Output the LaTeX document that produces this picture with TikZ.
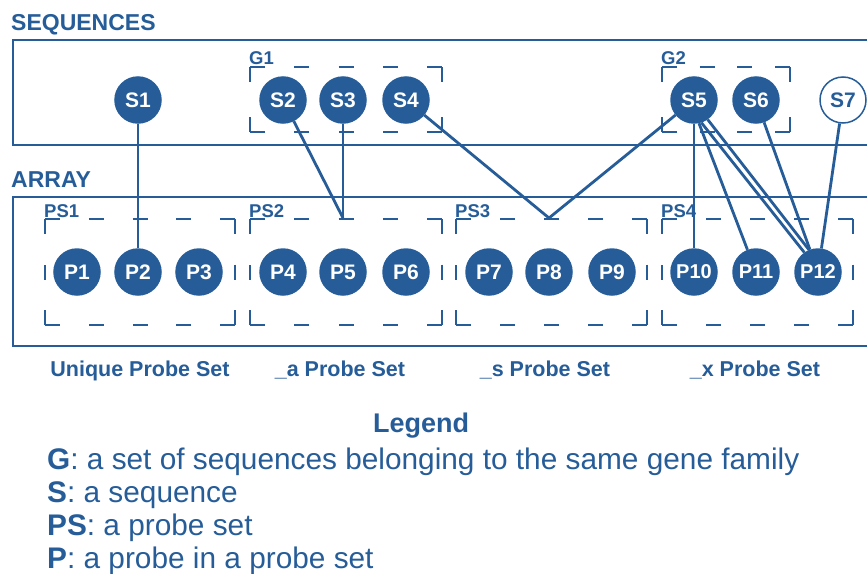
\documentclass[tikz,border=0pt]{standalone}
\usepackage{fontspec}
\setmainfont{Liberation Sans}
\usetikzlibrary{backgrounds}
\definecolor{bl}{RGB}{38,93,153}
\tikzset{
  sn/.style={circle, fill=bl, draw=bl, line width=1.5pt, minimum size=46pt, inner sep=0pt,
    text=white, font=\fontsize{21}{21}\selectfont\bfseries},
  snw/.style={sn, fill=white, text=bl},
  con/.style={draw=bl, line width=2.8pt},
  solidbox/.style={draw=bl, line width=2pt},
  dbox/.style={draw=bl, line width=2pt, line cap=square},
  lab/.style={text=bl, font=\fontsize{18.5}{18.5}\selectfont\bfseries, inner sep=0pt, anchor=base west},
  head/.style={text=bl, font=\fontsize{23}{23}\selectfont\bfseries, inner sep=0pt, anchor=base west},
  captext/.style={text=bl, font=\fontsize{21.5}{21.5}\selectfont\bfseries, inner sep=0pt, anchor=base},
  legtitle/.style={text=bl, font=\fontsize{27}{27}\selectfont\bfseries, inner sep=0pt, anchor=base},
  leg/.style={text=bl, font=\fontsize{29.8}{29.8}\selectfont, inner sep=0pt, anchor=base west},
}
\newcommand\dseg[4]{%
  \pgfmathsetmacro\Ltot{veclen(#3-#1,#4-#2)}%
  \pgfmathsetmacro\kk{max(1,round((\Ltot-15)/40))}%
  \pgfmathsetmacro\gg{(\Ltot-15)/\kk-15}%
  \draw[dbox, dash pattern=on 15pt off \gg pt] (#1,#2) -- (#3,#4);%
}
\newcommand\grpbox[4]{\dseg{#1}{#2}{#3}{#2}\dseg{#3}{#2}{#3}{#4}\dseg{#3}{#4}{#1}{#4}\dseg{#1}{#4}{#1}{#2}}
\begin{document}
\begin{tikzpicture}[x=1pt, y=-1pt]
\useasboundingbox (0,0) rectangle (867,573);
\begin{scope}
\clip (0,0) rectangle (867,573);
\draw[solidbox] (13,40) rectangle (885,145);
\draw[solidbox] (13,197) rectangle (885,346);
\end{scope}

\node[head] (seqh) at (11,30) {SEQUENCES};
\node[head] (arrh) at (11,187) {ARRAY};

% dashed groups
\grpbox{250}{67}{442}{132}
\grpbox{662}{67}{790}{132}
\grpbox{45}{219}{235}{325}
\grpbox{250}{219}{442}{325}
\grpbox{456}{219}{647}{325}
\grpbox{662}{219}{853}{325}

\node[lab] (g1) at (249,64) {G1};
\node[lab] (g2) at (661,64) {G2};
\node[lab] (ps1) at (44,217) {PS1};
\node[lab] (ps2) at (249,217) {PS2};
\node[lab] (ps3) at (455,217) {PS3};
\node[lab] (ps4) at (661,217) {PS4};

% sequences
\node[sn] (S1) at (138,100) {S1};
\node[sn] (S2) at (283,100) {S2};
\node[sn] (S3) at (343,100) {S3};
\node[sn] (S4) at (406,100) {S4};
\node[sn] (S5) at (694,100) {S5};
\node[sn] (S6) at (756,100) {S6};
\node[snw] (S7) at (843,100) {S7};

% probes
\node[sn] (P1) at (77,272) {P1};
\node[sn] (P2) at (138,272) {P2};
\node[sn] (P3) at (199,272) {P3};
\node[sn] (P4) at (283,272) {P4};
\node[sn] (P5) at (343,272) {P5};
\node[sn] (P6) at (406,272) {P6};
\node[sn] (P7) at (489,272) {P7};
\node[sn] (P8) at (549,272) {P8};
\node[sn] (P9) at (612,272) {P9};
\node[sn, font=\fontsize{20}{20}\selectfont\bfseries] (P10) at (694,272) {P10};
\node[sn, font=\fontsize{20}{20}\selectfont\bfseries] (P11) at (756,272) {P11};
\node[sn, font=\fontsize{20}{20}\selectfont\bfseries] (P12) at (818,272) {P12};

\coordinate (j2) at (343,218);
\coordinate (j3) at (549,218);

\begin{pgfonlayer}{background}
\draw[con] (S1) -- (P2);
\draw[con] (S2) -- (j2);
\draw[con] (S3) -- (j2);
\draw[con] (S4) -- (j3);
\draw[con] (S5) -- (j3);
\draw[con] (S5) -- (P10);
\draw[con] (S5.-78) -- (P11);
\draw[con] (S5.-72) -- (P12.125);
\draw[con] (S5.-55) -- (P12.112);
\draw[con] (S6) -- (P12);
\draw[con] (S7) -- (P12);
\end{pgfonlayer}

% captions
\node[captext] (c1) at (140,376) {Unique Probe Set};
\node[captext] (c2) at (340,376) {\_a Probe Set};
\node[captext] (c3) at (545,376) {\_s Probe Set};
\node[captext] (c4) at (755,376) {\_x Probe Set};

% legend
\node[legtitle] (lt) at (421,432) {Legend};
\node[leg] (l1) at (47,469) {\textbf{G}: a set of sequences belonging to the same gene family};
\node[leg] (l2) at (47,502) {\textbf{S}: a sequence};
\node[leg] (l3) at (47,535) {\textbf{PS}: a probe set};
\node[leg] (l4) at (47,568) {\textbf{P}: a probe in a probe set};
\end{tikzpicture}
\end{document}
